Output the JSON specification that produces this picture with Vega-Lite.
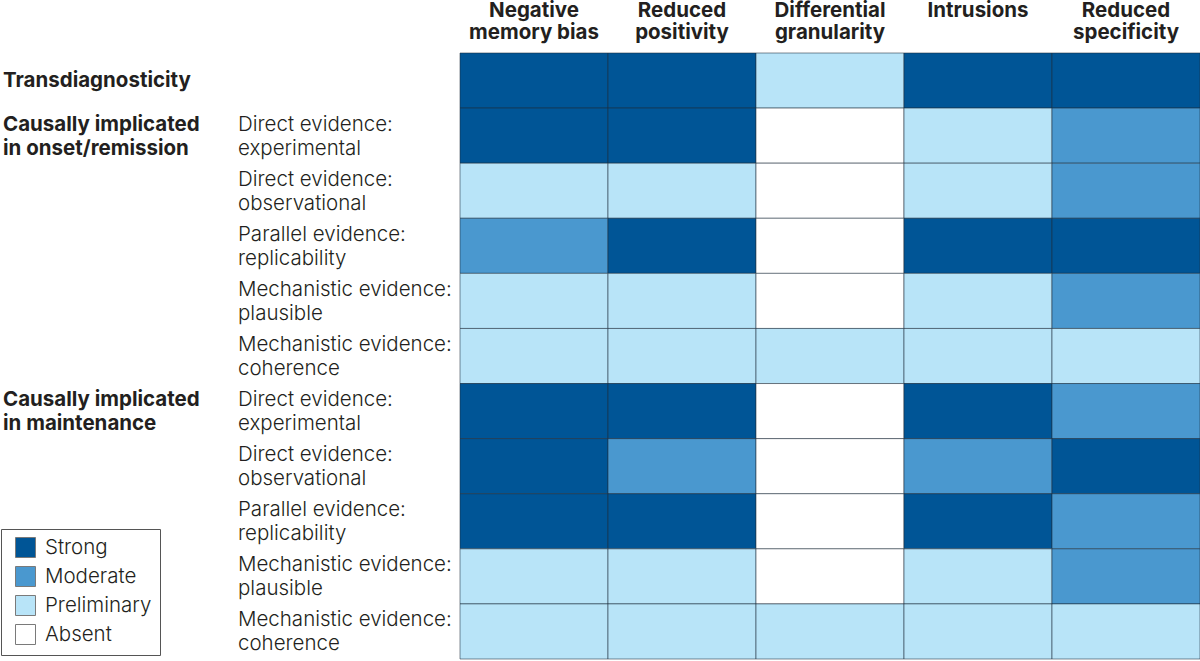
{
  "$schema": "https://vega.github.io/schema/vega-lite/v6.json",
  "padding": 0,
  "spacing": 0,
  "background": "white",
  "config": {
    "view": {"stroke": null},
    "font": "Inter",
    "concat": {"spacing": 0}
  },
  "datasets": {
    "labels": [
      {"row": 1, "group": "Transdiagnosticity", "sub": ""},
      {"row": 2, "group": "Causally implicated\nin onset/remission", "sub": "Direct evidence:\nexperimental"},
      {"row": 3, "group": "", "sub": "Direct evidence:\nobservational"},
      {"row": 4, "group": "", "sub": "Parallel evidence:\nreplicability"},
      {"row": 5, "group": "", "sub": "Mechanistic evidence:\nplausible"},
      {"row": 6, "group": "", "sub": "Mechanistic evidence:\ncoherence"},
      {"row": 7, "group": "Causally implicated\nin maintenance", "sub": "Direct evidence:\nexperimental"},
      {"row": 8, "group": "", "sub": "Direct evidence:\nobservational"},
      {"row": 9, "group": "", "sub": "Parallel evidence:\nreplicability"},
      {"row": 10, "group": "", "sub": "Mechanistic evidence:\nplausible"},
      {"row": 11, "group": "", "sub": "Mechanistic evidence:\ncoherence"}
    ],
    "cells": [
      {"row": 1, "measure": "Negative memory bias", "level": "Strong"},
      {"row": 1, "measure": "Reduced positivity", "level": "Strong"},
      {"row": 1, "measure": "Differential granularity", "level": "Preliminary"},
      {"row": 1, "measure": "Intrusions", "level": "Strong"},
      {"row": 1, "measure": "Reduced specificity", "level": "Strong"},
      {"row": 2, "measure": "Negative memory bias", "level": "Strong"},
      {"row": 2, "measure": "Reduced positivity", "level": "Strong"},
      {"row": 2, "measure": "Differential granularity", "level": "Absent"},
      {"row": 2, "measure": "Intrusions", "level": "Preliminary"},
      {"row": 2, "measure": "Reduced specificity", "level": "Moderate"},
      {"row": 3, "measure": "Negative memory bias", "level": "Preliminary"},
      {"row": 3, "measure": "Reduced positivity", "level": "Preliminary"},
      {"row": 3, "measure": "Differential granularity", "level": "Absent"},
      {"row": 3, "measure": "Intrusions", "level": "Preliminary"},
      {"row": 3, "measure": "Reduced specificity", "level": "Moderate"},
      {"row": 4, "measure": "Negative memory bias", "level": "Moderate"},
      {"row": 4, "measure": "Reduced positivity", "level": "Strong"},
      {"row": 4, "measure": "Differential granularity", "level": "Absent"},
      {"row": 4, "measure": "Intrusions", "level": "Strong"},
      {"row": 4, "measure": "Reduced specificity", "level": "Strong"},
      {"row": 5, "measure": "Negative memory bias", "level": "Preliminary"},
      {"row": 5, "measure": "Reduced positivity", "level": "Preliminary"},
      {"row": 5, "measure": "Differential granularity", "level": "Absent"},
      {"row": 5, "measure": "Intrusions", "level": "Preliminary"},
      {"row": 5, "measure": "Reduced specificity", "level": "Moderate"},
      {"row": 6, "measure": "Negative memory bias", "level": "Preliminary"},
      {"row": 6, "measure": "Reduced positivity", "level": "Preliminary"},
      {"row": 6, "measure": "Differential granularity", "level": "Preliminary"},
      {"row": 6, "measure": "Intrusions", "level": "Preliminary"},
      {"row": 6, "measure": "Reduced specificity", "level": "Preliminary"},
      {"row": 7, "measure": "Negative memory bias", "level": "Strong"},
      {"row": 7, "measure": "Reduced positivity", "level": "Strong"},
      {"row": 7, "measure": "Differential granularity", "level": "Absent"},
      {"row": 7, "measure": "Intrusions", "level": "Strong"},
      {"row": 7, "measure": "Reduced specificity", "level": "Moderate"},
      {"row": 8, "measure": "Negative memory bias", "level": "Strong"},
      {"row": 8, "measure": "Reduced positivity", "level": "Moderate"},
      {"row": 8, "measure": "Differential granularity", "level": "Absent"},
      {"row": 8, "measure": "Intrusions", "level": "Moderate"},
      {"row": 8, "measure": "Reduced specificity", "level": "Strong"},
      {"row": 9, "measure": "Negative memory bias", "level": "Strong"},
      {"row": 9, "measure": "Reduced positivity", "level": "Strong"},
      {"row": 9, "measure": "Differential granularity", "level": "Absent"},
      {"row": 9, "measure": "Intrusions", "level": "Strong"},
      {"row": 9, "measure": "Reduced specificity", "level": "Moderate"},
      {"row": 10, "measure": "Negative memory bias", "level": "Preliminary"},
      {"row": 10, "measure": "Reduced positivity", "level": "Preliminary"},
      {"row": 10, "measure": "Differential granularity", "level": "Absent"},
      {"row": 10, "measure": "Intrusions", "level": "Preliminary"},
      {"row": 10, "measure": "Reduced specificity", "level": "Moderate"},
      {"row": 11, "measure": "Negative memory bias", "level": "Preliminary"},
      {"row": 11, "measure": "Reduced positivity", "level": "Preliminary"},
      {"row": 11, "measure": "Differential granularity", "level": "Preliminary"},
      {"row": 11, "measure": "Intrusions", "level": "Preliminary"},
      {"row": 11, "measure": "Reduced specificity", "level": "Preliminary"}
    ]
  },
  "hconcat": [
    {
      "width": 238,
      "height": 606,
      "data": {"name": "labels"},
      "encoding": {
        "x": {"datum": 0, "type": "quantitative", "scale": {"domain": [0, 1]}, "axis": null},
        "y": {"field": "row", "type": "ordinal", "scale": {"domain": [1,2,3,4,5,6,7,8,9,10,11], "paddingInner": 0, "paddingOuter": 0}, "axis": null},
        "text": {"field": "group"}
      },
      "layer": [
        {
          "transform": [{"filter": "indexof(datum.group, '\\n') < 0"}],
          "mark": {"type": "text", "align": "left", "baseline": "middle", "fontWeight": 700, "fontSize": 20.5, "lineHeight": 24, "lineBreak": "\n", "color": "#231f20", "dx": 3}
        },
        {
          "transform": [{"filter": "indexof(datum.group, '\\n') >= 0"}],
          "mark": {"type": "text", "align": "left", "baseline": "middle", "fontWeight": 700, "fontSize": 20.5, "lineHeight": 24, "lineBreak": "\n", "color": "#231f20", "dx": 3, "dy": -11}
        }
      ]
    },
    {
      "width": 221,
      "height": 606,
      "data": {"name": "labels"},
      "mark": {"type": "text", "align": "left", "baseline": "middle", "fontSize": 20.5, "fontWeight": 350, "lineHeight": 24, "lineBreak": "\n", "color": "#231f20", "dy": -11},
      "encoding": {
        "x": {"datum": 0, "type": "quantitative", "scale": {"domain": [0, 1]}, "axis": null},
        "y": {"field": "row", "type": "ordinal", "scale": {"domain": [1,2,3,4,5,6,7,8,9,10,11], "paddingInner": 0, "paddingOuter": 0}, "axis": null},
        "text": {"field": "sub"}
      }
    },
    {
      "width": 740,
      "height": 606,
      "data": {"name": "cells"},
      "mark": {"type": "rect", "stroke": "#1e2d3d", "strokeOpacity": 0.55, "strokeWidth": 1},
      "encoding": {
        "x": {
          "field": "measure", "type": "nominal",
          "sort": ["Negative memory bias", "Reduced positivity", "Differential granularity", "Intrusions", "Reduced specificity"],
          "scale": {"paddingInner": 0, "paddingOuter": 0},
          "axis": {
            "orient": "top", "title": null, "ticks": false, "tickSize": 0, "domain": false,
            "labelAngle": 0, "labelBaseline": "top", "labelPadding": 53,
            "labelFont": "Inter", "labelFontSize": 20.5, "labelFontWeight": 700, "labelColor": "#231f20", "labelLineHeight": 22,
            "labelExpr": "indexof(datum.label, ' ') < 0 ? datum.label : [substring(datum.label, 0, indexof(datum.label, ' ')), substring(datum.label, indexof(datum.label, ' ') + 1)]"
          }
        },
        "y": {"field": "row", "type": "ordinal", "scale": {"domain": [1,2,3,4,5,6,7,8,9,10,11], "paddingInner": 0, "paddingOuter": 0}, "axis": null},
        "color": {
          "field": "level", "type": "nominal",
          "scale": {"domain": ["Strong", "Moderate", "Preliminary", "Absent"], "range": ["#005596", "#4a98cf", "#b8e4f8", "#ffffff"]},
          "legend": {
            "title": null, "orient": "none", "legendX": 1, "legendY": 476,
            "strokeColor": "#555555", "fillColor": "white", "padding": 8,
            "symbolType": "square", "symbolSize": 400, "symbolStrokeColor": "#7a7a7a", "symbolStrokeWidth": 1, "symbolOffset": 6,
            "labelFont": "Inter", "labelFontSize": 20.5, "labelFontWeight": 350, "labelColor": "#231f20", "labelOffset": 9, "rowPadding": 4
          }
        }
      }
    }
  ]
}
